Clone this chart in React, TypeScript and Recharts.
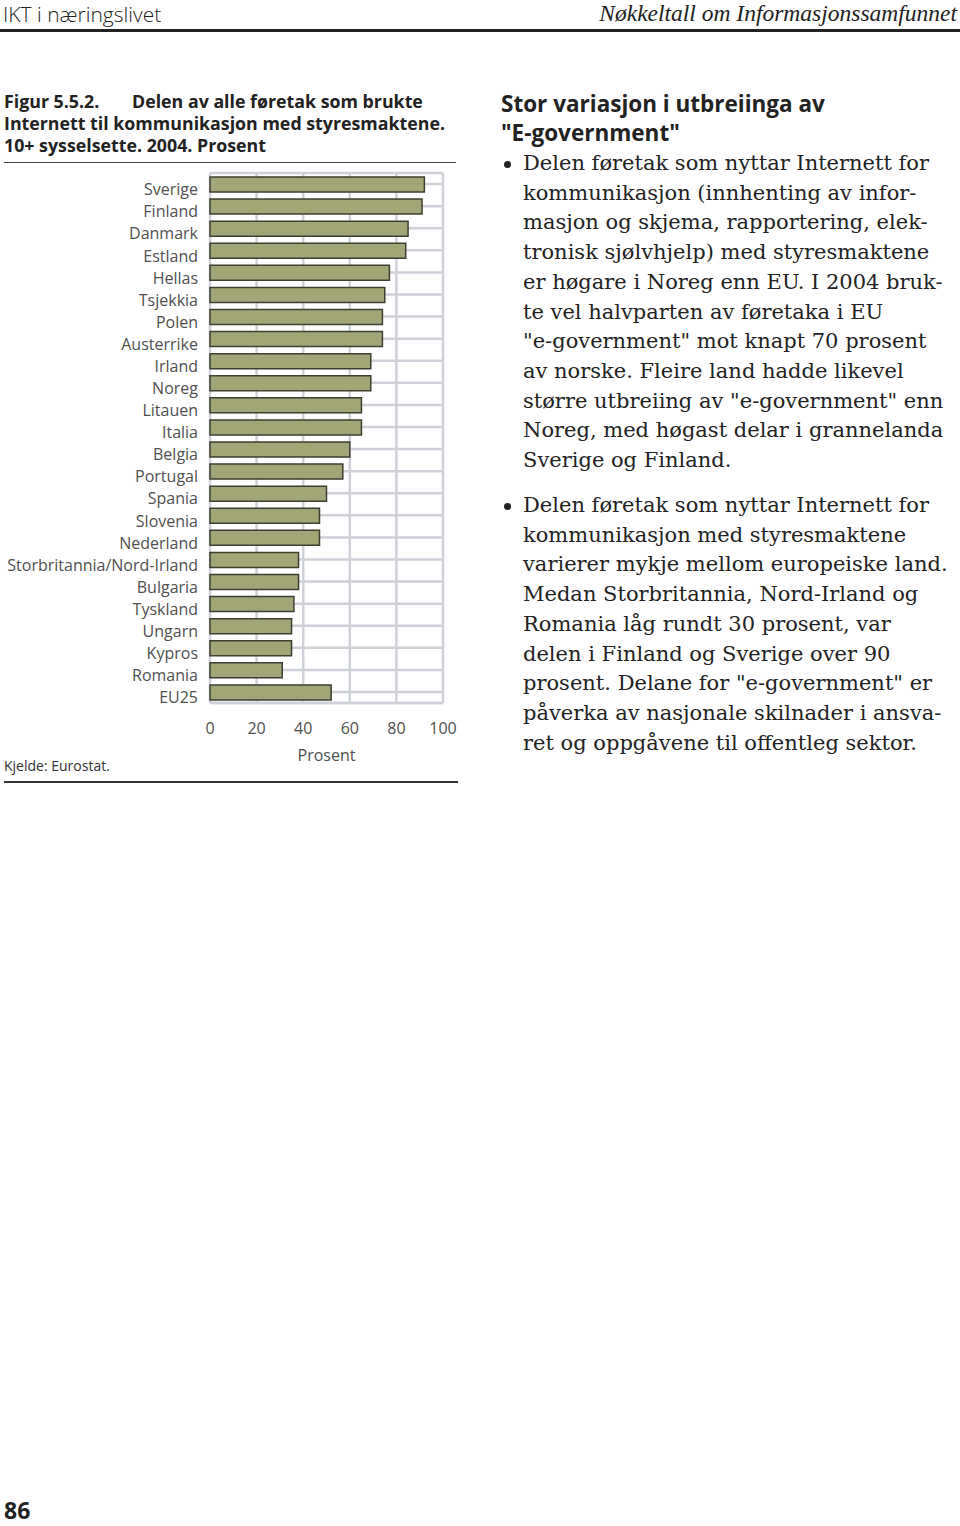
import React from "react";
import { BarChart, Bar, XAxis, YAxis, CartesianGrid } from "recharts";

// Delen av alle føretak som brukte Internett til kommunikasjon med styresmaktene, 2004
const countries = [
  "Sverige",
  "Finland",
  "Danmark",
  "Estland",
  "Hellas",
  "Tsjekkia",
  "Polen",
  "Austerrike",
  "Irland",
  "Noreg",
  "Litauen",
  "Italia",
  "Belgia",
  "Portugal",
  "Spania",
  "Slovenia",
  "Nederland",
  "Storbritannia/Nord-Irland",
  "Bulgaria",
  "Tyskland",
  "Ungarn",
  "Kypros",
  "Romania",
  "EU25",
];
const shares = [
  92, 91, 85, 84, 77, 75, 74, 74, 69, 69, 65, 65, 60, 57, 50, 47, 47, 38, 38,
  36, 35, 35, 31, 52,
];
const xTicks = [0, 20, 40, 60, 80, 100];

const chartData = countries.map((name, i) => ({ name, value: shares[i] }));

const SANS = '"Open Sans", "Noto Sans", sans-serif';
const SERIF = '"DejaVu Serif", serif';
const gridColor = "#cfd1d8";
const labelColor = "#505050";

const YTick = (props: any) => {
  const { x, y, payload } = props;
  return (
    <text
      x={x}
      y={y + 7}
      textAnchor="end"
      dominantBaseline="middle"
      fontFamily={SANS}
      fontSize={16}
      fill={labelColor}
    >
      {payload.value}
    </text>
  );
};

const bullet1 = [
  "Delen føretak som nyttar Internett for",
  "kommunikasjon (innhenting av infor-",
  "masjon og skjema, rapportering, elek-",
  "tronisk sjølvhjelp) med styresmaktene",
  "er høgare i Noreg enn EU. I 2004 bruk-",
  "te vel halvparten av føretaka i EU",
  '"e-government" mot knapt 70 prosent',
  "av norske. Fleire land hadde likevel",
  'større utbreiing av "e-government" enn',
  "Noreg, med høgast delar i grannelanda",
  "Sverige og Finland.",
];
const bullet2 = [
  "Delen føretak som nyttar Internett for",
  "kommunikasjon med styresmaktene",
  "varierer mykje mellom europeiske land.",
  "Medan Storbritannia, Nord-Irland og",
  "Romania låg rundt 30 prosent, var",
  "delen i Finland og Sverige over 90",
  'prosent. Delane for "e-government" er',
  "påverka av nasjonale skilnader i ansva-",
  "ret og oppgåvene til offentleg sektor.",
];

const abs = (left: number, top: number): React.CSSProperties => ({
  position: "absolute",
  left,
  top,
  whiteSpace: "nowrap",
});

const Bullet = ({ lines, top }: { lines: string[]; top: number }) => (
  <div style={{ ...abs(501, top), fontFamily: SERIF, fontSize: 21, lineHeight: "29.7px", color: "#222" }}>
    <span
      style={{
        position: "absolute",
        left: 3,
        top: 12,
        width: 7,
        height: 7,
        borderRadius: "50%",
        background: "#222",
      }}
    />
    {lines.map((l, i) => (
      <div key={i} style={{ paddingLeft: 22 }}>
        {l}
      </div>
    ))}
  </div>
);

export default function App() {
  return (
    <div
      style={{
        position: "absolute",
        left: 0,
        top: 0,
        width: 960,
        height: 1526,
        background: "#fff",
        overflow: "hidden",
      }}
    >
      {/* page header */}
      <div style={{ ...abs(3, 2), fontFamily: SANS, fontSize: 21, fontWeight: 300, color: "#222", lineHeight: "24px" }}>
        IKT i næringslivet
      </div>
      <div
        style={{
          position: "absolute",
          right: 3,
          top: 1,
          fontFamily: '"Liberation Serif", serif',
          fontStyle: "italic",
          fontSize: 23.5,
          color: "#222",
          lineHeight: "24px",
          whiteSpace: "nowrap",
        }}
      >
        Nøkkeltall om Informasjonssamfunnet
      </div>
      <div style={{ position: "absolute", left: 0, top: 29, width: 960, height: 3, background: "#222" }} />

      {/* figure title */}
      <div style={{ ...abs(4, 90), fontFamily: SANS, fontWeight: 700, fontSize: 17.8, lineHeight: "22px", color: "#222" }}>
        <div style={{ position: "relative" }}>
          Figur 5.5.2.
          <span style={{ position: "absolute", left: 128 }}>Delen av alle føretak som brukte</span>
        </div>
        <div>Internett til kommunikasjon med styresmaktene.</div>
        <div>10+ sysselsette. 2004. Prosent</div>
      </div>
      <div style={{ position: "absolute", left: 4, top: 162, width: 452, height: 1, background: "#444" }} />

      {/* chart */}
      <div style={{ position: "absolute", left: 0, top: 160 }}>
        <BarChart
          width={470}
          height={610}
          data={chartData}
          layout="vertical"
          margin={{ top: 13, right: 27, left: 0, bottom: 0 }}
        >
          <CartesianGrid stroke={gridColor} strokeWidth={2.5} vertical horizontal />
          <XAxis
            type="number"
            domain={[0, 100]}
            ticks={xTicks}
            interval={0}
            height={67}
            tickLine={false}
            tickSize={0}
            tickMargin={20}
            axisLine={{ stroke: gridColor, strokeWidth: 2.5 }}
            tick={{ fontFamily: SANS, fontSize: 16, fill: labelColor }}
            label={{
              value: "Prosent",
              position: "insideBottom",
              offset: 9,
              style: { fontFamily: SANS, fontSize: 16, fill: labelColor },
            }}
          />
          <YAxis
            type="category"
            dataKey="name"
            width={210}
            interval={0}
            tickLine={false}
            axisLine={false}
            tickSize={0}
            tickMargin={12}
            tick={<YTick />}
          />
          <Bar
            dataKey="value"
            fill="#a2a676"
            stroke="#3d3f30"
            strokeWidth={1.5}
            barSize={15}
            isAnimationActive={false}
          />
        </BarChart>
      </div>

      {/* source */}
      <div style={{ ...abs(4, 756), fontFamily: SANS, fontSize: 14, color: "#333", lineHeight: "20px" }}>
        Kjelde: Eurostat.
      </div>
      <div style={{ position: "absolute", left: 4, top: 781, width: 454, height: 1.5, background: "#333" }} />

      {/* commentary */}
      <div style={{ ...abs(501, 89), fontFamily: SANS, fontWeight: 700, fontSize: 22.5, lineHeight: "29px", color: "#222" }}>
        <div>Stor variasjon i utbreiinga av</div>
        <div>"E-government"</div>
      </div>
      <Bullet lines={bullet1} top={149} />
      <Bullet lines={bullet2} top={491} />

      {/* page number */}
      <div style={{ ...abs(4, 1496), fontFamily: SANS, fontWeight: 700, fontSize: 23, lineHeight: "28px", color: "#222" }}>
        86
      </div>
    </div>
  );
}
